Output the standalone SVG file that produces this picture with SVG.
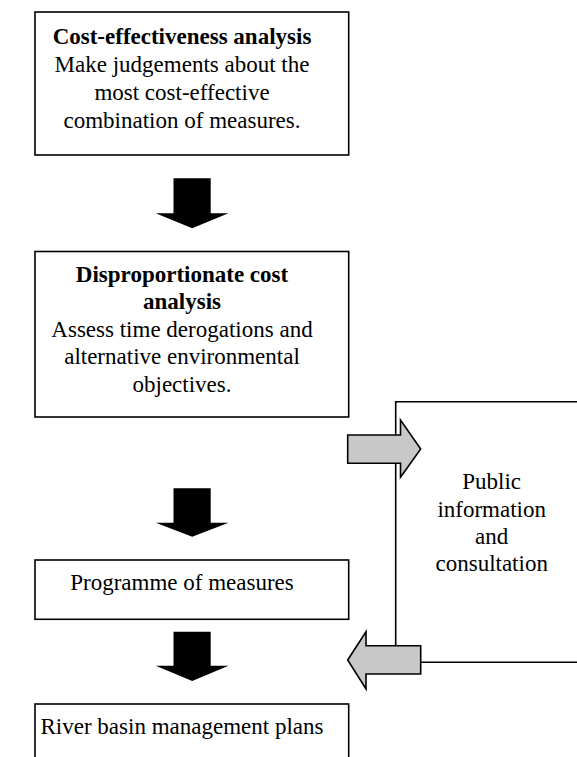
<svg xmlns="http://www.w3.org/2000/svg" width="577" height="757" viewBox="0 0 577 757">
<style>
.box{fill:#fff;stroke:#000;stroke-width:1.6}
.t{font-family:"Liberation Serif","Times New Roman",serif;font-size:23px;fill:#000;text-anchor:middle}
.b{font-weight:bold}
.blk{fill:#000;stroke:none}
.gry{fill:#c8c8c8;stroke:#000;stroke-width:1.6;stroke-linejoin:miter}
.ln{fill:none;stroke:#000;stroke-width:1.6}
</style>
<rect width="577" height="757" fill="#fff"/>
<g id="public">
<path class="ln" d="M395.7,646 V401.7 H590"/>
<path class="ln" d="M420.7,662.3 H590"/>
<text class="t" x="491.7" y="489.3">Public</text>
<text class="t" x="491.7" y="516.7">information</text>
<text class="t" x="491.7" y="543.8">and</text>
<text class="t" x="491.7" y="570.9">consultation</text>
</g>
<g id="cea">
<rect class="box" x="35" y="12" width="313.7" height="143"/>
<text class="t b" x="182" y="44.3">Cost-effectiveness analysis</text>
<text class="t" x="182" y="72.3">Make judgements about the</text>
<text class="t" x="182" y="100.3">most cost-effective</text>
<text class="t" x="182" y="128.3">combination of measures.</text>
</g>
<g id="dca">
<rect class="box" x="35" y="251.5" width="313.7" height="165.5"/>
<text class="t b" x="182" y="281.7">Disproportionate cost</text>
<text class="t b" x="182" y="309.2">analysis</text>
<text class="t" x="182" y="336.7">Assess time derogations and</text>
<text class="t" x="182" y="364.2">alternative environmental</text>
<text class="t" x="182" y="391.7">objectives.</text>
</g>
<g id="pom">
<rect class="box" x="35" y="560" width="313.7" height="59.3"/>
<text class="t" x="182" y="590">Programme of measures</text>
</g>
<g id="rbmp">
<rect class="box" x="35" y="704" width="313.7" height="80"/>
<text class="t" x="182" y="734">River basin management plans</text>
</g>
<g id="connectors">
<path class="blk" d="M173.5,178.3 H210.7 V213.3 H228.5 L192.2,228.3 L155.7,213.3 H173.5 Z"/>
<path class="blk" d="M173.5,488.3 H210.7 V522.7 H228.5 L192.2,536.7 L155.7,522.7 H173.5 Z"/>
<path class="blk" d="M173.5,631.7 H210.7 V665.7 H228.5 L192.2,681 L155.7,665.7 H173.5 Z"/>
<path class="gry" d="M347.7,435 H400.5 V420 L420.7,449 L400.5,477.3 V463.3 H347.7 Z"/>
<path class="gry" d="M347.7,660 L366,631.7 V645.7 H420.7 V674 H366 V689 Z"/>
</g>
</svg>
